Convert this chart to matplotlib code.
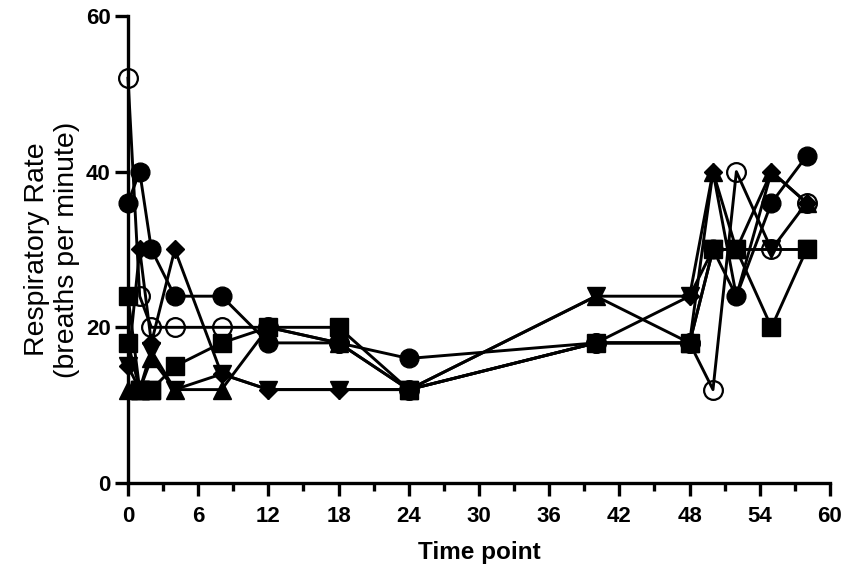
import matplotlib
matplotlib.use("Agg")
import matplotlib.pyplot as plt
from matplotlib.ticker import MultipleLocator

plt.rcParams['font.family'] = ['Liberation Sans', 'DejaVu Sans']

# time points (x)
time_full = [0, 1, 2, 4, 8, 12, 18, 24, 40, 48, 50, 52, 55, 58]
time_short = [0, 1, 2]

# respiratory rate per subject
circle_filled = [36, 40, 30, 24, 24, 18, 18, 16, 18, 18, 30, 24, 36, 42]
circle_open   = [52, 24, 20, 20, 20, 20, 18, 12, 18, 18, 12, 40, 30, 36]
square_a      = [18, 12, 12, 15, 18, 20, 20, 12, 18, 18, 30, 30, 20, 30]
square_b      = [24, 12, 12]
triangle_up   = [12, 12, 16, 12, 12, 20, 18, 12, 24, 18, 40, 30, 40, 36]
triangle_down = [15, 12, 17, 12, 14, 12, 12, 12, 24, 24, 30, 30, 30, 30]
diamond       = [15, 30, 18, 30, 14, 12, 12, 12, 18, 24, 40, 24, 40, 36]

x_ticks = [0, 6, 12, 18, 24, 30, 36, 42, 48, 54, 60]
y_ticks = [0, 20, 40, 60]

fig = plt.figure(figsize=(8.51, 5.79), dpi=100)
ax = fig.add_axes([0.1504, 0.1658, 0.8249, 0.8066])

lw = 2.1
series = [
    (time_full, square_a, dict(marker='s', ms=12.5, mfc='black')),
    (time_short, square_b, dict(marker='s', ms=12.5, mfc='black')),
    (time_full, triangle_up, dict(marker='^', ms=13, mfc='black')),
    (time_full, triangle_down, dict(marker='v', ms=13, mfc='black')),
    (time_full, diamond, dict(marker='D', ms=9.5, mfc='black')),
    (time_full, circle_filled, dict(marker='o', ms=13.5, mfc='black')),
    (time_full, circle_open, dict(marker='o', ms=13.5, mfc='none', mew=1.6)),
]
for xs, ys, st in series:
    ax.plot(xs, ys, color='black', lw=lw, mec='black', clip_on=False, zorder=3, **st)

ax.set_xlim(0, 60)
ax.set_ylim(0, 60)
ax.set_xticks(x_ticks)
ax.set_yticks(y_ticks)
ax.xaxis.set_minor_locator(MultipleLocator(3))

for s in ['top', 'right']:
    ax.spines[s].set_visible(False)
for s in ['left', 'bottom']:
    ax.spines[s].set_linewidth(2.4)

ax.tick_params(axis='both', which='major', direction='out', length=9.5, width=2.4,
               labelsize=16)
ax.tick_params(axis='x', which='major', pad=7)
ax.tick_params(axis='y', which='major', pad=3)
ax.tick_params(axis='x', which='minor', direction='out', length=5.5, width=2.4)
for lab in ax.get_xticklabels() + ax.get_yticklabels():
    lab.set_fontweight('bold')

ax.set_xlabel('Time point', fontsize=17.5, fontweight='bold', labelpad=10)
ax.set_ylabel('Respiratory Rate\n(breaths per minute)', fontsize=20.5, labelpad=4,
              linespacing=1.2)

fig.savefig('out.png', dpi=100)
